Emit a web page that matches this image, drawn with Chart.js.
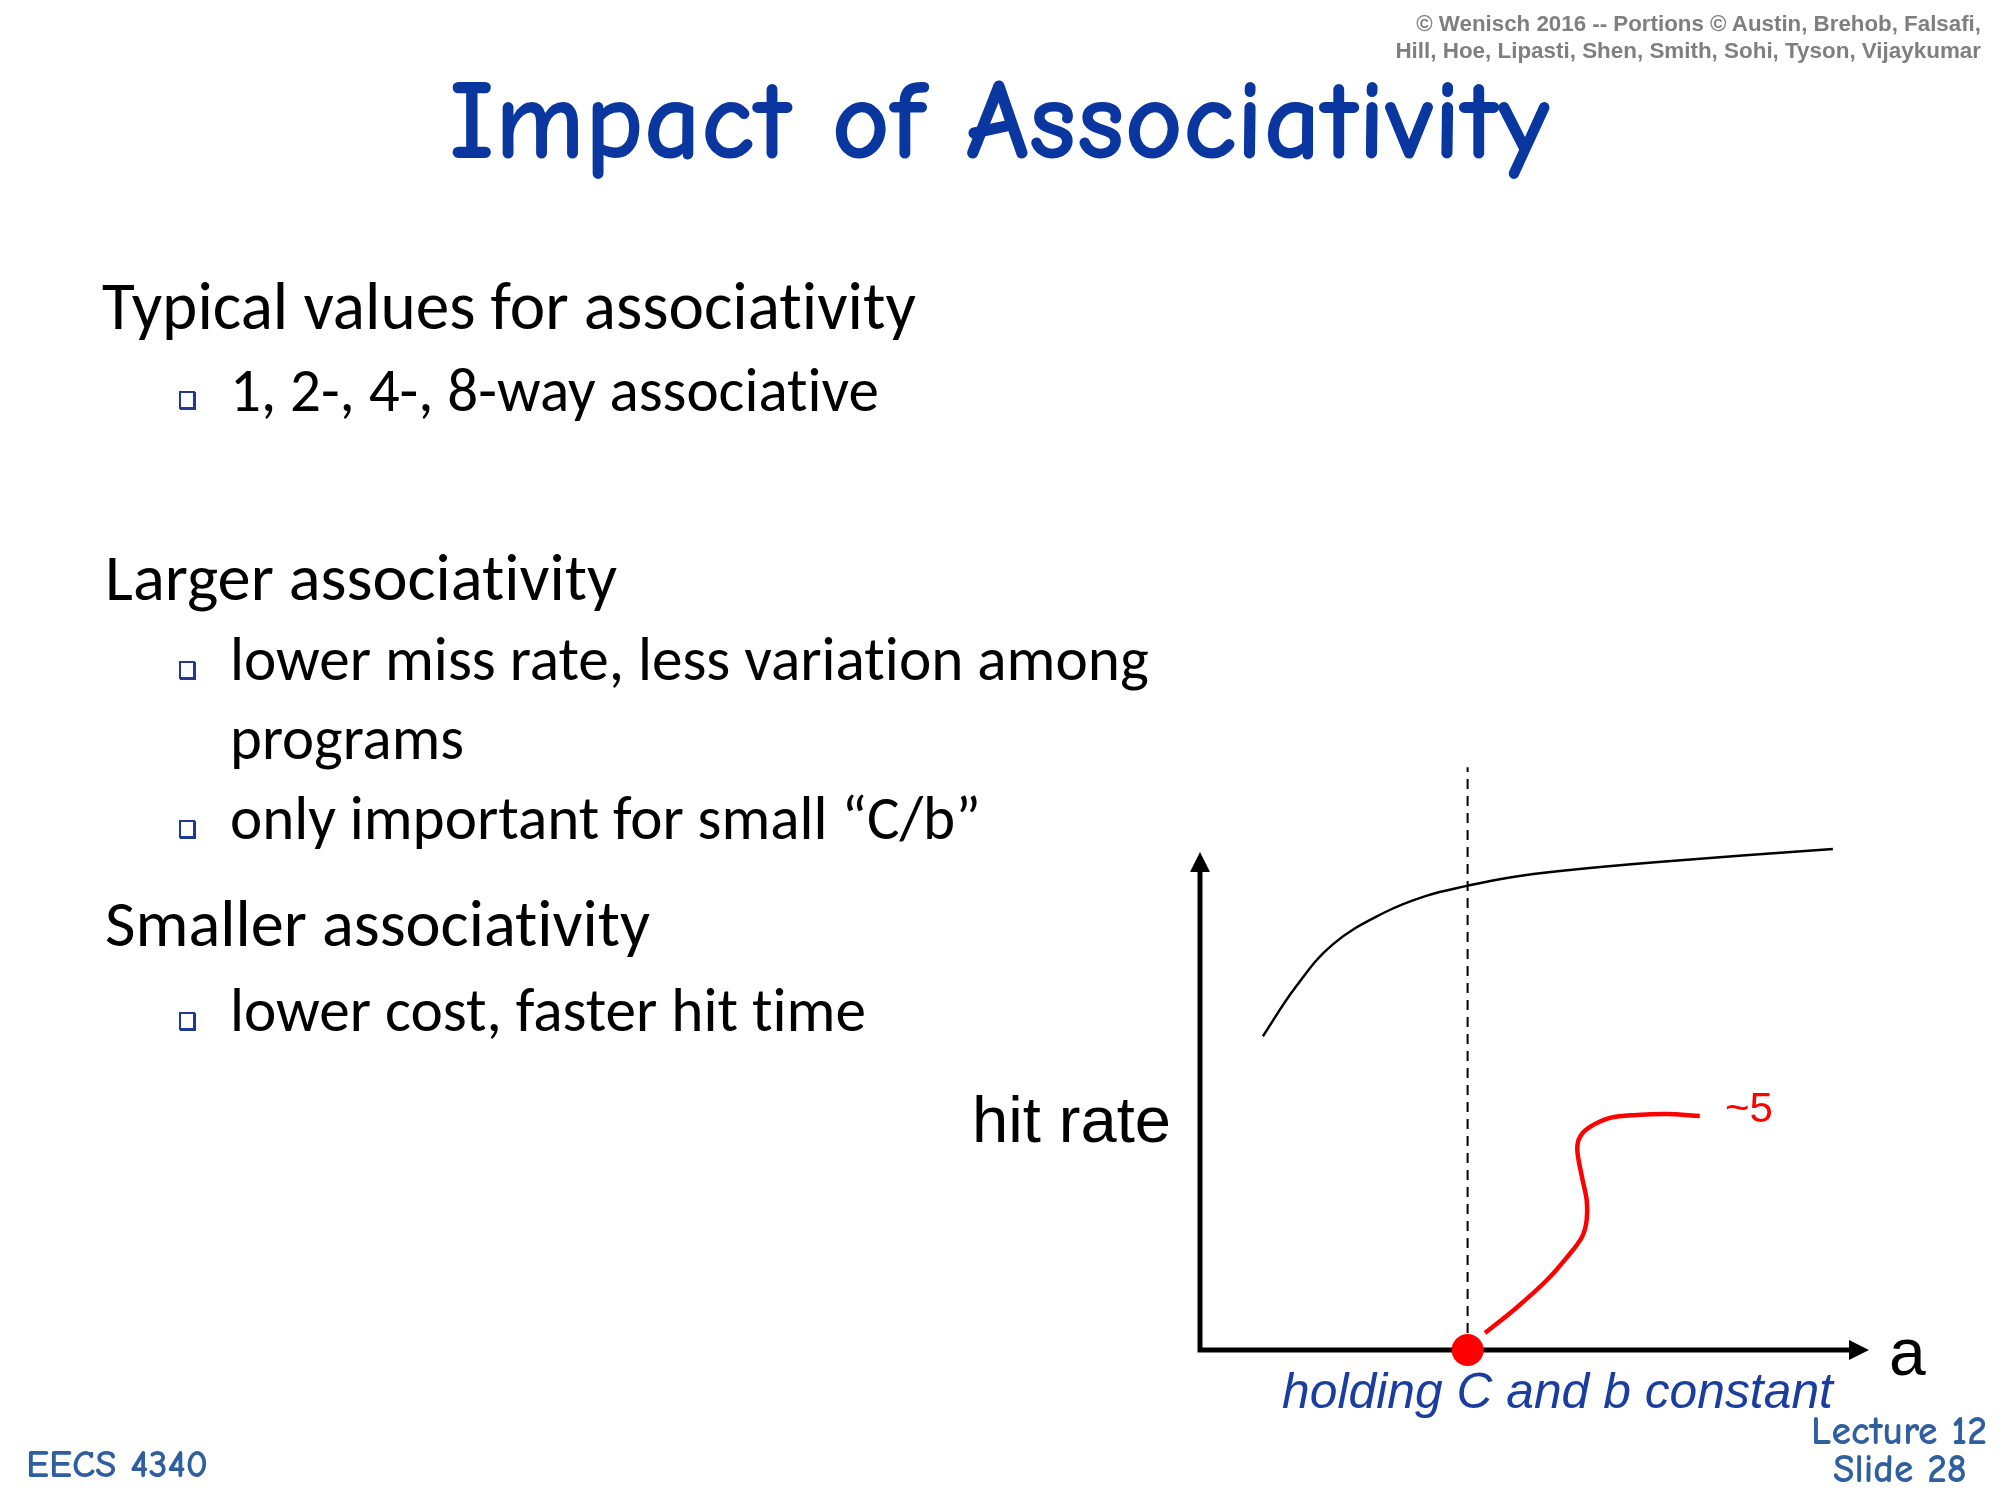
<!DOCTYPE html>
<html>
<head>
<meta charset="utf-8">
<script src="https://cdn.jsdelivr.net/npm/chart.js@4"></script>
<style>
html,body{margin:0;padding:0;background:#fff}
body{width:2000px;height:1500px;overflow:hidden;position:relative}
#c{position:absolute;left:0;top:0;width:2000px;height:1500px}
.t{position:absolute;white-space:nowrap;line-height:1.2;left:0;top:0;font-variant-ligatures:none;font-feature-settings:"liga" 0,"clig" 0}
.bul{position:absolute;width:12px;height:14px;border:2px solid #1f3a93;box-shadow:1px 1px 0 #1f3a93;background:#fff}
</style>
</head>
<body>
<canvas id="c" width="2000" height="1500"></canvas>
<script>
// ---- chart data (a = associativity, hit rate in arbitrary units) ----
const hitCurveA    = [0.94, 1.43, 1.99, 2.75, 3.38, 3.99, 4.63, 5.38, 6.85, 9.46];
const hitCurveRate = [6.30, 7.29, 8.15, 8.78, 9.12, 9.32, 9.49, 9.62, 9.80, 10.06];
const pointerA     = [4.26, 4.74, 5.19, 5.49, 5.71, 5.78, 5.78, 5.71, 5.64, 5.68, 5.83, 6.13, 6.53, 6.98, 7.47];
const pointerRate  = [0.34, 0.86, 1.41, 1.87, 2.27, 2.61, 3.01, 3.47, 4.02, 4.28, 4.48, 4.66, 4.72, 4.74, 4.70];
const kneeA = [4.0, 4.0];
const kneeRate = [0, 11.7];
const markerA = [4.0];
const markerRate = [0];
const axisRange = {aMin: 0, aMax: 10, rMin: 0, rMax: 10};

// ---- slide texts ----
const titleText = 'Impact of Associativity';
const copyrightLines = ['© Wenisch 2016 -- Portions © Austin, Brehob, Falsafi,',
                        'Hill, Hoe, Lipasti, Shen, Smith, Sohi, Tyson, Vijaykumar'];
const headings = ['Typical values for associativity', 'Larger associativity', 'Smaller associativity'];
const bulletsText = ['1, 2-, 4-, 8-way associative', 'lower miss rate, less variation among', 'programs',
                     'only important for small “C/b”', 'lower cost, faster hit time'];
const yAxisLabel = 'hit rate';
const xAxisLabel = 'a';
const pointerLabel = '~5';
const noteText = 'holding C and b constant';
const footerLeft = 'EECS 4340';
const footerRight = ['Lecture 12', 'Slide 28'];

const zip = (xs, ys) => xs.map((x, i) => ({x: x, y: ys[i]}));

const axesPlugin = {
  id: 'arrowAxes',
  beforeDatasetsDraw(chart) {
    const {ctx, scales: {x, y}} = chart;
    const x0 = x.getPixelForValue(axisRange.aMin), x1 = x.getPixelForValue(axisRange.aMax);
    const y0 = y.getPixelForValue(axisRange.rMin), y1 = y.getPixelForValue(axisRange.rMax);
    const head = 20, half = 10;
    ctx.save();
    ctx.strokeStyle = '#000'; ctx.fillStyle = '#000'; ctx.lineWidth = 5; ctx.lineCap = 'butt';
    ctx.beginPath();
    ctx.moveTo(x0, y0 + 2.5); ctx.lineTo(x0, y1 + head - 2);
    ctx.moveTo(x0 - 2.5, y0); ctx.lineTo(x1 - head + 2, y0);
    ctx.stroke();
    ctx.beginPath();
    ctx.moveTo(x0, y1); ctx.lineTo(x0 - half, y1 + head); ctx.lineTo(x0 + half, y1 + head); ctx.closePath();
    ctx.moveTo(x1, y0); ctx.lineTo(x1 - head, y0 - half); ctx.lineTo(x1 - head, y0 + half); ctx.closePath();
    ctx.fill();
    ctx.restore();
  }
};

new Chart(document.getElementById('c'), {
  type: 'line',
  data: {
    datasets: [
      {data: zip(kneeA, kneeRate), borderColor: '#000', borderWidth: 2, borderDash: [10, 7],
       pointRadius: 0, tension: 0, clip: false, order: 4},
      {data: zip(hitCurveA, hitCurveRate), borderColor: '#000', borderWidth: 2.5,
       pointRadius: 0, tension: 0.4, clip: false, order: 3},
      {data: zip(pointerA, pointerRate), borderColor: '#ff0000', borderWidth: 4.5,
       pointRadius: 0, tension: 0.35, clip: false, order: 2},
      {data: zip(markerA, markerRate), showLine: false, pointRadius: 16, pointBackgroundColor: '#ff0000',
       pointBorderColor: '#ff0000', pointBorderWidth: 0, clip: false, order: 1}
    ]
  },
  options: {
    responsive: false, animation: false, devicePixelRatio: 1,
    layout: {padding: {left: 1200, right: 131, top: 852, bottom: 150}},
    plugins: {legend: {display: false}, tooltip: {enabled: false}},
    scales: {
      x: {type: 'linear', display: false, min: axisRange.aMin, max: axisRange.aMax},
      y: {type: 'linear', display: false, min: axisRange.rMin, max: axisRange.rMax}
    }
  },
  plugins: [axesPlugin]
});

// ---- place texts (left/right/center, baseline, optional fitted width) ----
function place(text, o) {
  const el = document.createElement('div');
  el.className = 't';
  el.style.fontFamily = o.family;
  el.style.fontWeight = o.weight || 'normal';
  el.style.fontStyle = o.style || 'normal';
  el.style.color = o.color || '#000';
  let size = o.size || 50;
  el.style.fontSize = size + 'px';
  el.appendChild(document.createTextNode(text));
  const m = document.createElement('span');
  m.style.cssText = 'display:inline-block;width:0;height:0;vertical-align:baseline';
  el.appendChild(m);
  document.body.appendChild(el);
  if (o.w) {
    const w0 = el.getBoundingClientRect().width;
    size = size * o.w / w0;
    el.style.fontSize = size + 'px';
  }
  const w = el.getBoundingClientRect().width;
  const base = m.offsetTop;
  let left = o.x;
  if (o.align === 'right') left = o.x - w;
  if (o.align === 'center') left = o.x - w / 2;
  el.style.left = left + 'px';
  el.style.top = (o.base - base) + 'px';
  return el;
}
const comic = "'Comic Sans MS','Comic Neue','Noto Sans',sans-serif";
const body = "Carlito, Calibri, Lato, sans-serif";
const arial = "Arial,'Liberation Sans',sans-serif";

place(titleText, {family: comic, weight: 'bold', x: 449, base: 158, w: 1101, color: '#0a36a0'});
place(copyrightLines[0], {family: arial, weight: 'bold', x: 1981, base: 31, w: 565, align: 'right', color: '#7f7f7f'});
place(copyrightLines[1], {family: arial, weight: 'bold', x: 1981, base: 58, w: 586, align: 'right', color: '#7f7f7f'});

place(headings[0], {family: body, x: 102, base: 329, w: 814});
place(bulletsText[0], {family: body, x: 230, base: 411, w: 649});
place(headings[1], {family: body, x: 105, base: 600, w: 512});
place(bulletsText[1], {family: body, x: 230, base: 680, w: 919});
place(bulletsText[2], {family: body, x: 230, base: 759, w: 234});
place(bulletsText[3], {family: body, x: 230, base: 839, w: 751});
place(headings[2], {family: body, x: 105, base: 946, w: 545});
place(bulletsText[4], {family: body, x: 230, base: 1031, w: 636});

[400, 670, 829, 1021].forEach(cy => {
  const b = document.createElement('div');
  b.className = 'bul';
  b.style.left = (187 - 8) + 'px';
  b.style.top = (cy - 9) + 'px';
  document.body.appendChild(b);
});

place(yAxisLabel, {family: arial, x: 972, base: 1142, w: 199});
place(xAxisLabel, {family: arial, x: 1889, base: 1375, size: 66});
place(pointerLabel, {family: arial, x: 1725, base: 1122, w: 48, color: '#ff0000'});
place(noteText, {family: arial, style: 'italic', x: 1282, base: 1408, w: 551, color: '#1a3ea0'});

place(footerLeft, {family: comic, weight: 'bold', x: 26, base: 1477, w: 182, color: '#2f5f9e'});
place(footerRight[0], {family: comic, weight: 'bold', x: 1987, base: 1444, w: 176, align: 'right', color: '#2f5f9e'});
place(footerRight[1], {family: comic, weight: 'bold', x: 1900, base: 1482, w: 134, align: 'center', color: '#2f5f9e'});
</script>
</body>
</html>
